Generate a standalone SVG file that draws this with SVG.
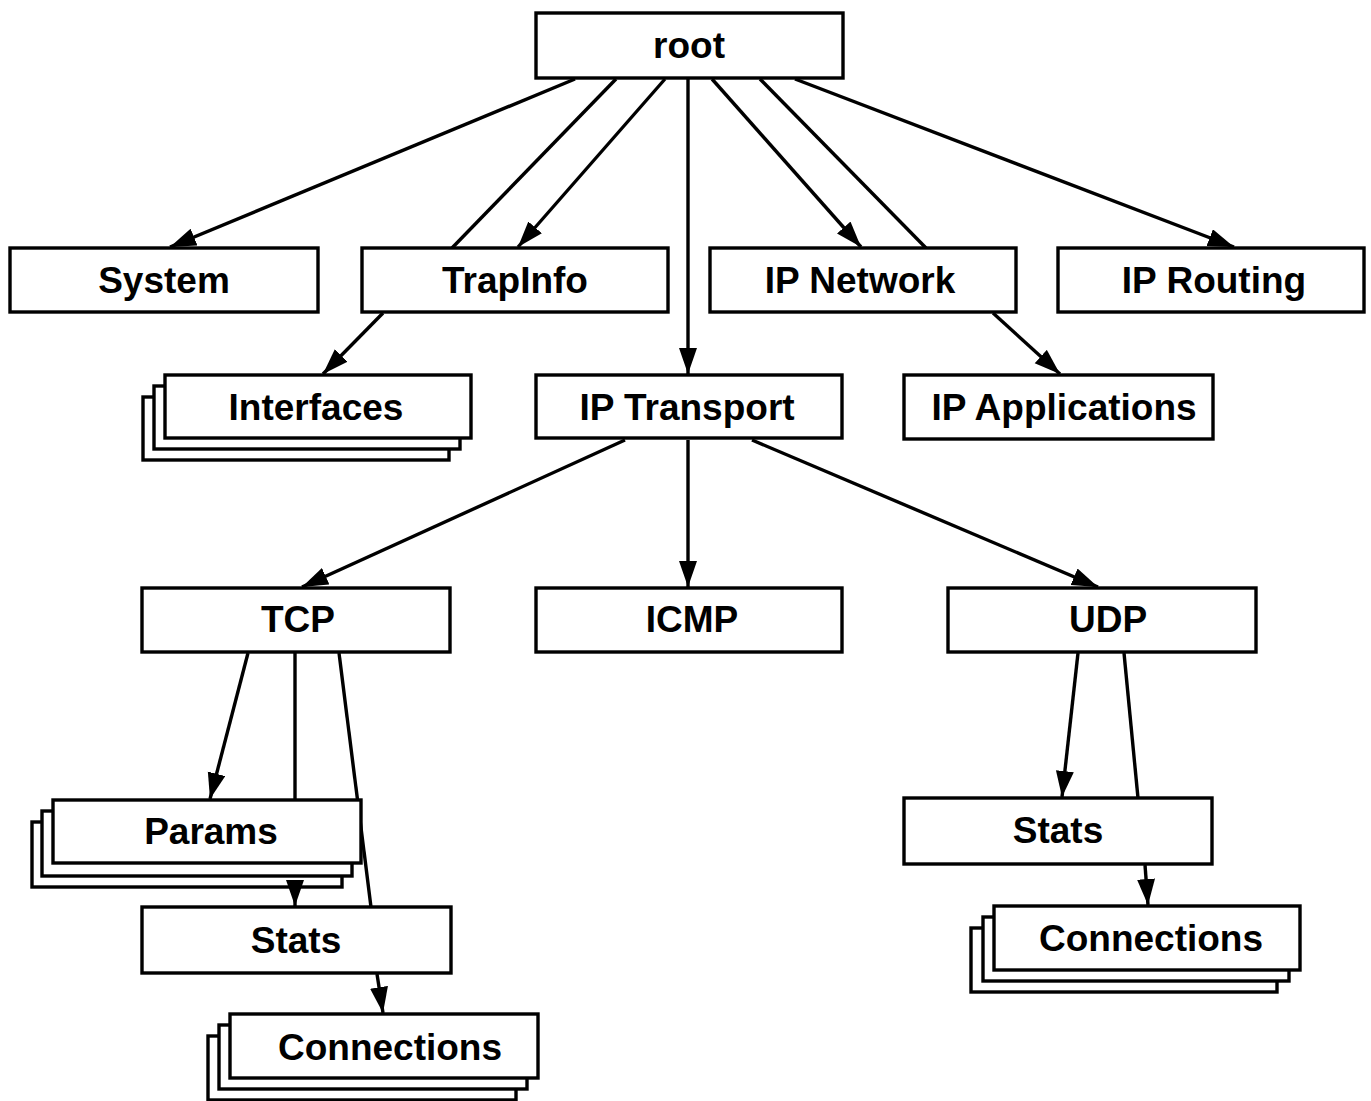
<svg xmlns="http://www.w3.org/2000/svg" width="1371" height="1101" viewBox="0 0 1371 1101">
<style>
.box{fill:#fff;stroke:#000;stroke-width:3.4}
.lbl{font-family:"Liberation Sans",Arial,sans-serif;font-weight:bold;font-size:37px;text-anchor:middle;fill:#000}
.edge{stroke:#000;stroke-width:3.4;fill:none}
.arr{marker-end:url(#ah)}
</style>
<defs>
<marker id="ah" markerUnits="userSpaceOnUse" markerWidth="28" markerHeight="20" refX="26" refY="9" orient="auto">
<path d="M0,0 L26,9 L0,18 z" fill="#000"/>
</marker>
</defs>
<rect width="1371" height="1101" fill="#fff"/>
<g id="connectors">
<line class="edge arr" x1="575" y1="79" x2="170" y2="247"/>
<line class="edge" x1="616" y1="79" x2="452" y2="248"/>
<line class="edge arr" x1="665" y1="79" x2="518" y2="247"/>
<line class="edge arr" x1="688" y1="79" x2="688" y2="374"/>
<line class="edge arr" x1="712" y1="79" x2="861" y2="247"/>
<line class="edge" x1="760" y1="79" x2="926" y2="248"/>
<line class="edge arr" x1="795" y1="79" x2="1234" y2="247"/>
<line class="edge arr" x1="383" y1="313" x2="323" y2="374"/>
<line class="edge arr" x1="993" y1="313" x2="1060" y2="374"/>
<line class="edge arr" x1="625" y1="440" x2="302" y2="587"/>
<line class="edge arr" x1="688" y1="440" x2="688" y2="587"/>
<line class="edge arr" x1="752" y1="440" x2="1098" y2="587"/>
<line class="edge arr" x1="248" y1="653" x2="210" y2="799"/>
<line class="edge" x1="295" y1="653" x2="295" y2="800"/>
<line class="edge" x1="339" y1="653" x2="371" y2="907"/>
<line class="edge arr" x1="1078" y1="653" x2="1062" y2="797"/>
<line class="edge" x1="1124" y1="653" x2="1138" y2="798"/>
</g>
<g id="root"><rect class="box" x="536" y="13" width="307" height="65"/><text class="lbl" x="689" y="58">root</text></g>
<g id="system"><rect class="box" x="10" y="248" width="308" height="64"/><text class="lbl" x="164" y="293">System</text></g>
<g id="trapinfo"><rect class="box" x="362" y="248" width="306" height="64"/><text class="lbl" x="515" y="293">TrapInfo</text></g>
<g id="ipnetwork"><rect class="box" x="710" y="248" width="306" height="64"/><text class="lbl" x="860" y="293">IP Network</text></g>
<g id="iprouting"><rect class="box" x="1058" y="248" width="306" height="64"/><text class="lbl" x="1214" y="293">IP Routing</text></g>
<g id="interfaces">
<rect class="box" x="143" y="397" width="306" height="63"/>
<rect class="box" x="154" y="386" width="306" height="63"/>
<rect class="box" x="165" y="375" width="306" height="63"/>
<text class="lbl" x="316" y="420">Interfaces</text></g>
<g id="iptransport"><rect class="box" x="536" y="375" width="306" height="63"/><text class="lbl" x="687" y="420">IP Transport</text></g>
<g id="ipapplications"><rect class="box" x="904" y="375" width="309" height="64"/><text class="lbl" x="1064" y="420">IP Applications</text></g>
<g id="tcp"><rect class="box" x="142" y="588" width="308" height="64"/><text class="lbl" x="298" y="632">TCP</text></g>
<g id="icmp"><rect class="box" x="536" y="588" width="306" height="64"/><text class="lbl" x="692" y="632">ICMP</text></g>
<g id="udp"><rect class="box" x="948" y="588" width="308" height="64"/><text class="lbl" x="1108" y="632">UDP</text></g>
<g id="params">
<rect class="box" x="32" y="822" width="310" height="65"/>
<rect class="box" x="42" y="811" width="310" height="65"/>
<rect class="box" x="53" y="800" width="308" height="63"/>
<text class="lbl" x="211" y="844">Params</text></g>
<g id="tcpstats"><rect class="box" x="142" y="907" width="309" height="66"/><text class="lbl" x="296" y="953">Stats</text></g>
<g id="tcpconnections">
<rect class="box" x="208" y="1036" width="308" height="64"/>
<rect class="box" x="219" y="1025" width="308" height="64"/>
<rect class="box" x="230" y="1014" width="308" height="64"/>
<text class="lbl" x="390" y="1060">Connections</text></g>
<g id="udpstats"><rect class="box" x="904" y="798" width="308" height="66"/><text class="lbl" x="1058" y="843">Stats</text></g>
<g id="udpconnections">
<rect class="box" x="971" y="928" width="306" height="64"/>
<rect class="box" x="983" y="917" width="306" height="64"/>
<rect class="box" x="994" y="906" width="306" height="64"/>
<text class="lbl" x="1151" y="951">Connections</text></g>
<g id="connectors2">
<line class="edge arr" x1="295" y1="884" x2="295" y2="906"/>
<line class="edge arr" x1="377" y1="974" x2="383" y2="1013"/>
<line class="edge arr" x1="1145" y1="865" x2="1148" y2="905"/>
</g>
</svg>
